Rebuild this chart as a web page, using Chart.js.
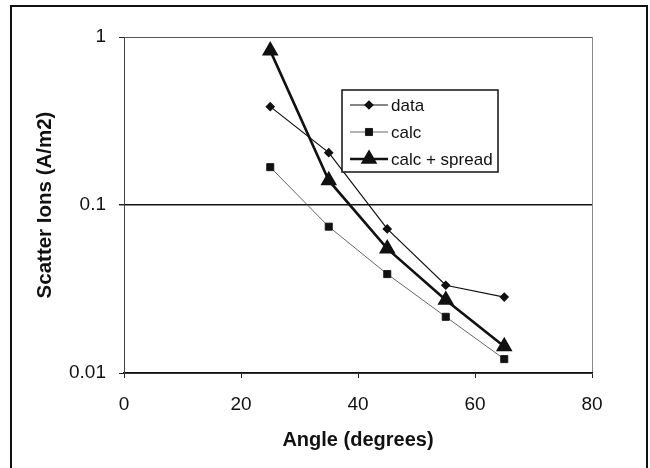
<!DOCTYPE html>
<html>
<head>
<meta charset="utf-8">
<script src="https://cdn.jsdelivr.net/npm/chart.js@4/dist/chart.umd.min.js"></script>
<style>
    html, body { margin: 0; padding: 0; background: #fff; }
    #wrap { width: 650px; height: 468px; }
</style>
</head>
<body>
<div id="wrap"><canvas id="scatterChart" width="650" height="468"></canvas></div>
<script>
// ========== 数据 ==========
const angles = [25, 35, 45, 55, 65];
const measured = [0.385, 0.205, 0.072, 0.0333, 0.0283];
const calc = [0.168, 0.0743, 0.0388, 0.0216, 0.0121];
const calcSpread = [0.83, 0.14, 0.055, 0.0272, 0.0144];

const xTicks = [0, 20, 40, 60, 80];
const yTicks = [0.01, 0.1, 1];
const yTickLabels = ['0.01', '0.1', '1'];

const FONT = 'Liberation Sans, Arial, Helvetica, sans-serif';

function toPoints(ys) {
    return angles.map((a, i) => ({ x: a, y: ys[i] }));
}

// ========== 外框 ==========
const framePlugin = {
    id: 'frame',
    beforeDraw(chart) {
        const ctx = chart.ctx;
        ctx.save();
        ctx.fillStyle = '#fff';
        ctx.fillRect(0, 0, chart.width, chart.height);
        ctx.restore();
    },
    afterDraw(chart) {
        const ctx = chart.ctx;
        ctx.save();
        ctx.strokeStyle = '#111';
        ctx.lineWidth = 2;
        ctx.strokeRect(11, 6, 636, 500);
        ctx.restore();
    }
};

// ========== 图例（画在绘图区内） ==========
const legendBoxPlugin = {
    id: 'legendBox',
    afterDatasetsDraw(chart) {
        const ctx = chart.ctx;
        const box = { x: 342, y: 90, w: 156, h: 82 };
        ctx.save();
        ctx.fillStyle = '#fff';
        ctx.fillRect(box.x, box.y, box.w, box.h);
        ctx.strokeStyle = '#111';
        ctx.lineWidth = 1.5;
        ctx.strokeRect(box.x, box.y, box.w, box.h);

        ctx.font = '17px ' + FONT;
        ctx.textBaseline = 'middle';
        ctx.textAlign = 'left';

        chart.data.datasets.forEach((ds, i) => {
            const y = box.y + 15 + i * 27;
            ctx.strokeStyle = ds.borderColor;
            ctx.lineWidth = ds.borderWidth;
            ctx.beginPath();
            ctx.moveTo(350, y);
            ctx.lineTo(388, y);
            ctx.stroke();

            ctx.fillStyle = ds.pointBackgroundColor;
            ctx.strokeStyle = ds.pointBorderColor;
            Chart.helpers.drawPoint(ctx, {
                pointStyle: ds.pointStyle,
                radius: ds.pointRadius,
                rotation: 0,
                borderWidth: 1
            }, 369, y);

            ctx.fillStyle = '#111';
            ctx.fillText(ds.label, 391, y + 1);
        });
        ctx.restore();
    }
};

// ========== 图表 ==========
const ctx = document.getElementById('scatterChart').getContext('2d');
new Chart(ctx, {
    type: 'scatter',
    data: {
        datasets: [
            {
                label: 'data',
                data: toPoints(measured),
                showLine: true,
                borderColor: '#111',
                borderWidth: 1.2,
                pointStyle: 'rectRot',
                pointRadius: 4,
                pointBackgroundColor: '#111',
                pointBorderColor: '#111'
            },
            {
                label: 'calc',
                data: toPoints(calc),
                showLine: true,
                borderColor: '#555',
                borderWidth: 0.9,
                pointStyle: 'rect',
                pointRadius: 5,
                pointBackgroundColor: '#111',
                pointBorderColor: '#111'
            },
            {
                label: 'calc + spread',
                data: toPoints(calcSpread),
                showLine: true,
                borderColor: '#111',
                borderWidth: 2.6,
                pointStyle: 'triangle',
                pointRadius: 7,
                pointBackgroundColor: '#111',
                pointBorderColor: '#111'
            }
        ]
    },
    options: {
        responsive: false,
        animation: false,
        layout: { padding: { top: 37, right: 58, left: 0, bottom: 0 } },
        plugins: {
            legend: { display: false },
            tooltip: { enabled: false }
        },
        scales: {
            x: {
                type: 'linear',
                min: 0,
                max: 80,
                afterBuildTicks: scale => { scale.ticks = xTicks.map(v => ({ value: v })); },
                afterFit: scale => { scale.height = 95; },
                ticks: {
                    color: '#111',
                    padding: 15,
                    maxRotation: 0,
                    font: { family: FONT, size: 19 }
                },
                grid: {
                    drawOnChartArea: true,
                    color: c => (c.tick && c.tick.value === 80 ? '#888' : 'rgba(0,0,0,0)'),
                    tickColor: '#222',
                    tickLength: 5,
                    lineWidth: 1
                },
                border: { display: true, color: '#111', width: 1.5 },
                title: {
                    display: true,
                    text: 'Angle (degrees)',
                    color: '#111',
                    font: { family: FONT, size: 20, weight: 'bold' },
                    padding: { top: 0, bottom: 16 }
                }
            },
            y: {
                type: 'logarithmic',
                min: 0.01,
                max: 1,
                afterBuildTicks: scale => { scale.ticks = yTicks.map(v => ({ value: v })); },
                afterFit: scale => { scale.width = 124; },
                ticks: {
                    color: '#111',
                    padding: 13,
                    font: { family: FONT, size: 19 },
                    callback: (v, i) => yTickLabels[i]
                },
                grid: {
                    color: c => (c.tick && c.tick.value === 0.1 ? '#111' : '#555'),
                    lineWidth: c => (c.tick && c.tick.value === 0.1 ? 1.5 : 1),
                    tickColor: '#222',
                    tickLength: 5
                },
                border: { display: true, color: '#444', width: 1 },
                title: {
                    display: true,
                    text: 'Scatter Ions (A/m2)',
                    color: '#111',
                    font: { family: FONT, size: 20.5, weight: 'bold' },
                    padding: { top: 33, bottom: 0 }
                }
            }
        }
    },
    plugins: [framePlugin, legendBoxPlugin]
});
</script>
</body>
</html>
